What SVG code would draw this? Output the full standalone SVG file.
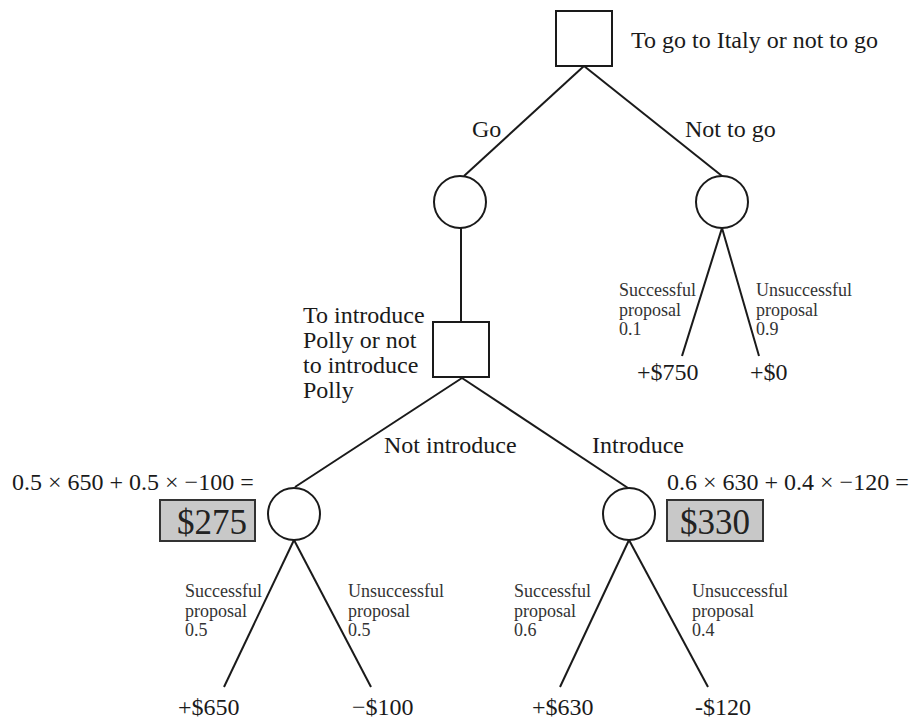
<svg xmlns="http://www.w3.org/2000/svg" width="913" height="721" viewBox="0 0 913 721">
<style>
.n{fill:#fff;stroke:#1a1a1a;stroke-width:2}
.c line{stroke:#1a1a1a;stroke-width:2}
text{font-family:"Liberation Serif","Times New Roman",serif;fill:#1a1a1a}
.l{font-size:24px}
.s{font-size:18px;fill:#333}
.v{fill:#c8c8c8;stroke:#333;stroke-width:2}
.b{font-size:35px;fill:#222}
</style>
<rect width="913" height="721" fill="#fff"/>
<g class="c" id="connectors">
<line x1="584" y1="66" x2="464" y2="176"/>
<line x1="584" y1="66" x2="722" y2="176"/>
<line x1="722" y1="228" x2="682" y2="356"/>
<line x1="722" y1="228" x2="759" y2="356"/>
<line x1="461" y1="228" x2="461" y2="322"/>
<line x1="462" y1="378" x2="295" y2="487"/>
<line x1="462" y1="378" x2="628" y2="488"/>
<line x1="294" y1="540" x2="224" y2="687"/>
<line x1="294" y1="540" x2="371" y2="687"/>
<line x1="629" y1="540" x2="560" y2="687"/>
<line x1="629" y1="540" x2="708" y2="687"/>
</g>
<g id="decision1">
<rect class="n" x="556" y="11" width="56" height="55"/>
<text class="l" x="631" y="48">To go to Italy or not to go</text>
</g>
<text class="l" x="472" y="137">Go</text>
<text class="l" x="685" y="137">Not to go</text>
<g id="chance-go"><circle class="n" cx="460" cy="202" r="26"/></g>
<g id="chance-notgo"><circle class="n" cx="722" cy="202" r="26"/></g>
<g class="s">
<text class="s" x="619" y="296">Successful</text>
<text class="s" x="619" y="315.5">proposal</text>
<text class="s" x="619" y="335">0.1</text>
<text class="s" x="756" y="296">Unsuccessful</text>
<text class="s" x="756" y="315.5">proposal</text>
<text class="s" x="756" y="335">0.9</text>
</g>
<text class="l" x="637" y="380">+$750</text>
<text class="l" x="750" y="380">+$0</text>
<g id="decision2">
<rect class="n" x="433" y="322" width="56" height="55"/>
<text class="l" x="303" y="323">To introduce</text>
<text class="l" x="303" y="348">Polly or not</text>
<text class="l" x="303" y="373">to introduce</text>
<text class="l" x="303" y="398">Polly</text>
</g>
<text class="l" x="384" y="453">Not introduce</text>
<text class="l" x="592" y="453">Introduce</text>
<g id="chance-not-introduce">
<circle class="n" cx="294" cy="514" r="26"/>
<text class="l" x="12" y="490">0.5 × 650 + 0.5 × −100 =</text>
<rect class="v" x="160" y="500" width="95" height="41"/>
<text class="b" x="177" y="534">$275</text>
</g>
<g id="chance-introduce">
<circle class="n" cx="629" cy="514" r="26"/>
<text class="l" x="667" y="490">0.6 × 630 + 0.4 × −120 =</text>
<rect class="v" x="667" y="500" width="96" height="41"/>
<text class="b" x="680" y="534">$330</text>
</g>
<text class="s" x="185" y="597">Successful</text>
<text class="s" x="185" y="616.5">proposal</text>
<text class="s" x="185" y="636">0.5</text>
<text class="s" x="348" y="597">Unsuccessful</text>
<text class="s" x="348" y="616.5">proposal</text>
<text class="s" x="348" y="636">0.5</text>
<text class="s" x="514" y="597">Successful</text>
<text class="s" x="514" y="616.5">proposal</text>
<text class="s" x="514" y="636">0.6</text>
<text class="s" x="692" y="597">Unsuccessful</text>
<text class="s" x="692" y="616.5">proposal</text>
<text class="s" x="692" y="636">0.4</text>
<text class="l" x="178" y="715">+$650</text>
<text class="l" x="352" y="715">−$100</text>
<text class="l" x="532" y="715">+$630</text>
<text class="l" x="695" y="715">-$120</text>
</svg>
